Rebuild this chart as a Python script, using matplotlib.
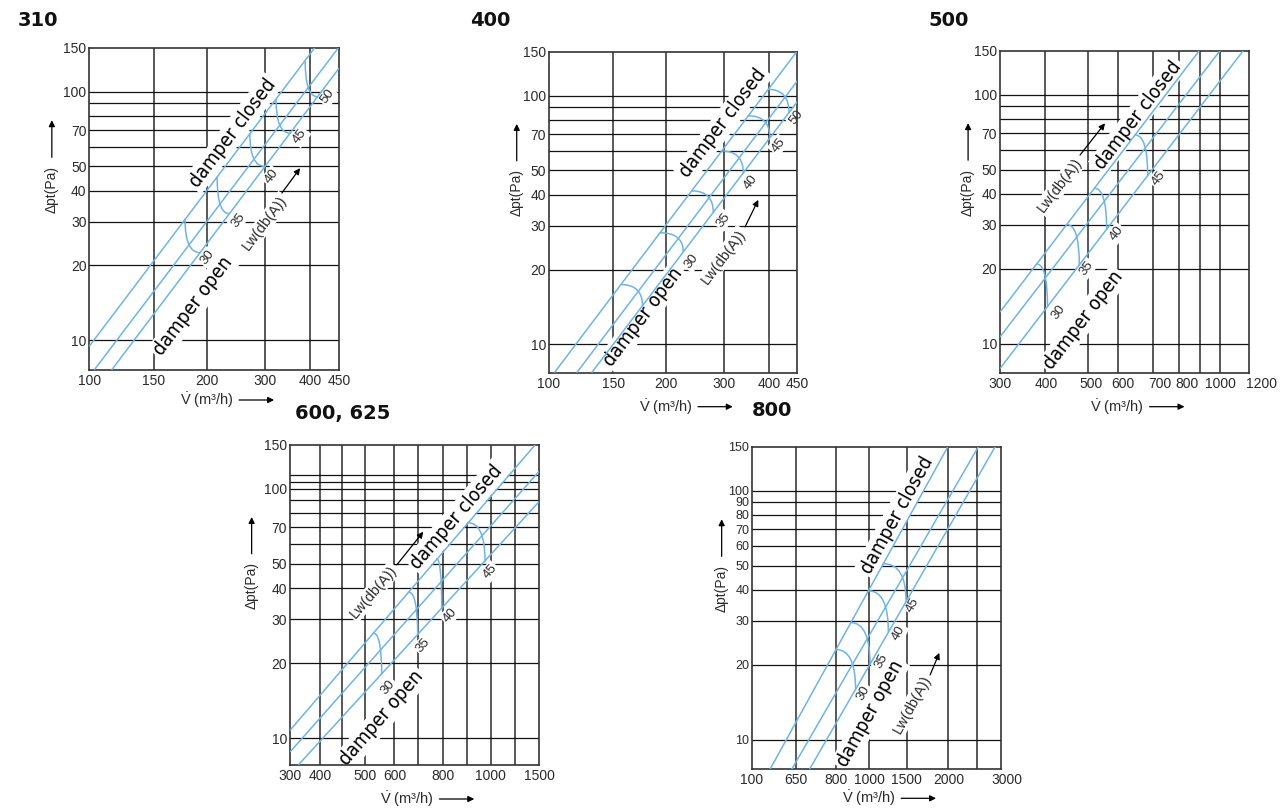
"""Pressure drop / sound power nomograms for five damper sizes."""

import math

import matplotlib

matplotlib.use("Agg")
import matplotlib.pyplot as plt
from matplotlib.patches import FancyArrowPatch
from matplotlib.ticker import FixedFormatter, FixedLocator, NullLocator
from matplotlib.transforms import ScaledTranslation

# ---------------------------------------------------------------- data
# Every panel: log x (airflow), log y (pressure drop). The printed scales of
# the original sheet are not exactly logarithmic, so tick and grid positions
# are given on the chart's own scale and the printed text is kept separately.

Y_TICKS_STD = [10, 20, 30, 40, 50, 70, 100, 150]
Y_TICKS_800 = [10, 20, 30, 40, 50, 60, 70, 80, 90, 100, 150]
Y_GRID_STD = [10, 20, 30, 40, 50, 60, 70, 80, 90, 100]
Y_GRID_600 = [10, 20, 30, 40, 50, 60, 70, 80, 90, 100, 107, 114]

# --- 310
P310_XLIM = (100, 450)
P310_YLIM = (7.6, 150)
P310_XGRID = [147.6, 203, 289, 378]
P310_XTICKS = [100, 147.6, 203, 289, 378, 450]
P310_XLABELS = ["100", "150", "200", "300", "400", "450"]
P310_LINE_V = [[100, 389], [103, 448], [114.4, 450]]
P310_LINE_P = [[9.47, 150], [7.6, 149.6], [7.6, 124]]
P310_ARC_LEVELS = ["30", "35", "40", "45", "50"]
P310_ARC_START = [(178, 30.6), (216, 45.4), (263, 67.7), (308, 93.1), (367, 132.8)]
P310_ARC_END = [(195, 22.5), (232, 32.3), (288, 50.0), (335, 68.0), (396, 95.2)]
P310_ARC_LABEL_AT = [(204, 21.5), (245, 30.5), (300, 45.5), (356, 65.9), (421, 95.4)]
P310_CLOSED_AT = (237, 68)
P310_OPEN_AT = (187, 13.7)
P310_LW_AT = (288, 29.6)
P310_LW_ARROW = [(319, 39.1), (356, 49.2)]

# --- 400
P400_XLIM = (100, 450)
P400_YLIM = (7.7, 150)
P400_XGRID = [147.6, 203, 289, 380]
P400_XTICKS = [100, 147.6, 203, 289, 380, 450]
P400_XLABELS = ["100", "150", "200", "300", "400", "450"]
P400_LINE_V = [[103.3, 448.4], [118.3, 450], [129.5, 450]]
P400_LINE_P = [[7.7, 150], [7.7, 114.4], [7.7, 94.5]]
P400_ARC_LEVELS = ["", "30", "35", "40", "45", "50"]
P400_ARC_START = [(154.7, 17.4), (195.9, 28.1), (237.4, 41.4), (284.7, 59.9),
                  (334.5, 82.9), (377.6, 105.9)]
P400_ARC_END = [(176.2, 14.3), (225.6, 23.5), (270.6, 33.9), (324.5, 48.9),
                (381.4, 67.7), (427.9, 85.3)]
P400_ARC_LABEL_AT = [(150, 10), (237.4, 21.5), (287.4, 31.6), (339.4, 44.7),
                     (401.1, 63.3), (446.5, 82.0)]
P400_CLOSED_AT = (287.4, 77.4)
P400_OPEN_AT = (177, 12.9)
P400_LW_AT = (287.4, 22.5)
P400_LW_ARROW = [(328, 29.7), (355.3, 38.1)]

# --- 500
P500_XLIM = (300, 1200)
P500_YLIM = (7.65, 150)
P500_XGRID = [385, 490, 577, 704, 813, 912, 1020]
P500_XTICKS = [300, 389, 499, 594, 730, 849, 1020, 1200]
P500_XLABELS = ["300", "400", "500", "600", "700", "800", "1000", "1200"]
P500_LINE_V = [[300, 908.6], [300, 1019.8], [300, 1160]]
P500_LINE_P = [[13.4, 150], [10.65, 150], [7.95, 150]]
P500_ARC_LEVELS = ["30", "35", "40", "45"]
P500_ARC_START = [(367.8, 20.9), (434.8, 30.1), (506.8, 42.1), (635.5, 68.9)]
P500_ARC_END = [(390.7, 14.1), (466.3, 20.7), (543, 28.8), (682.1, 47.3)]
P500_ARC_LABEL_AT = [(414.8, 13.4), (485.9, 20.1), (573.9, 27.7), (723.6, 46.1)]
P500_CLOSED_AT = (647.5, 82.8)
P500_OPEN_AT = (476.6, 12.4)
P500_LW_AT = (418.8, 43.3)
P500_LW_ARROW = [(468.2, 57.2), (537.9, 76.7)]

# --- 600, 625
P600_XLIM = (300, 1500)
P600_YLIM = (7.8, 150)
P600_XGRID = [364, 421, 487, 589, 688, 805, 940, 1098, 1285]
P600_XTICKS = [300, 364, 487, 589, 805, 1098, 1500]
P600_XLABELS = ["300", "400", "500", "600", "800", "1000", "1500"]
P600_LINE_V = [[300, 1462], [300, 1500], [316.5, 1500]]
P600_LINE_P = [[10.75, 150], [8.8, 117.4], [7.8, 88.8]]
P600_ARC_LEVELS = ["30", "35", "40", "45"]
P600_ARC_START = [(514, 26.4), (644.5, 38.6), (774.4, 52.4), (946.2, 73.2)]
P600_ARC_END = [(542.7, 18.1), (684.8, 26.0), (799.9, 33.2), (1058, 51.4)]
P600_ARC_LABEL_AT = [(566.4, 16.0), (710.2, 23.6), (844, 31.2), (1093, 46.5)]
P600_CLOSED_AT = (881.4, 77.3)
P600_OPEN_AT = (542.7, 12.0)
P600_LW_AT = (514, 38.6)
P600_LW_ARROW = [(597.9, 49.5), (710.2, 67.3)]

# --- 800 (printed labels as on the original sheet)
P800_XLIM = (500, 2180)
P800_YLIM = (7.6, 150)
P800_XGRID = [650, 820, 1000, 1250, 1600, 1900]
P800_XTICKS = [500, 650, 820, 1000, 1250, 1600, 2180]
P800_XLABELS = ["100", "650", "800", "1000", "1500", "2000", "3000"]
P800_LINE_V = [[556.3, 1594], [632.6, 1910], [702.9, 2110]]
P800_LINE_P = [[7.6, 150], [7.6, 150], [7.6, 150]]
P800_ARC_LEVELS = ["30", "35", "40", "45"]
P800_ARC_START = [(822.5, 23.0), (897.2, 29.5), (996, 39.6), (1088, 50.9)]
P800_ARC_END = [(923, 16.0), (1006, 20.0), (1121, 27.1), (1245, 36.0)]
P800_ARC_LABEL_AT = [(966.5, 15.4), (1078, 20.6), (1190, 26.8), (1295.6, 34.8)]
P800_CLOSED_AT = (1178, 79.8)
P800_OPEN_AT = (1006, 12.7)
P800_LW_AT = (1288, 13.8)
P800_LW_ARROW = [(1435.6, 18.2), (1516, 22.3)]

# ---------------------------------------------------------------- style
W, H = 1282, 808
BLUE = "#6fb4e2"
HGRID = "#111111"
VGRID = "#4a4a4a"
TXT = "#2a2a2a"
WHITE_BOX = dict(boxstyle="square,pad=0.12", fc="white", ec="none")

plt.rcParams["font.family"] = ["Liberation Sans", "DejaVu Sans"]
plt.rcParams["mathtext.fontset"] = "custom"
plt.rcParams["mathtext.rm"] = "Liberation Sans"
plt.rcParams["mathtext.it"] = "Liberation Sans:italic"

PANELS = [
    dict(title="310", title_px=(18, 20), box=(89.3, 339.0, 47.7, 370.0),
         ylab_x=-0.15, xlab_dy=30, last_shift=0, ytick_size=10,
         xlim=P310_XLIM, ylim=P310_YLIM, xgrid=P310_XGRID, ygrid=Y_GRID_STD,
         xticks=P310_XTICKS, xlabels=P310_XLABELS, yticks=Y_TICKS_STD,
         line_v=P310_LINE_V, line_p=P310_LINE_P, levels=P310_ARC_LEVELS,
         arc_a=P310_ARC_START, arc_b=P310_ARC_END, arc_lab=P310_ARC_LABEL_AT,
         arc_angles=(90, 0), closed=P310_CLOSED_AT, opened=P310_OPEN_AT,
         lw=P310_LW_AT, lw_arrow=P310_LW_ARROW),
    dict(title="400", title_px=(470, 20), box=(549.0, 797.3, 51.7, 372.7),
         ylab_x=-0.13, xlab_dy=34, last_shift=0, ytick_size=10,
         xlim=P400_XLIM, ylim=P400_YLIM, xgrid=P400_XGRID, ygrid=Y_GRID_STD,
         xticks=P400_XTICKS, xlabels=P400_XLABELS, yticks=Y_TICKS_STD,
         line_v=P400_LINE_V, line_p=P400_LINE_P, levels=P400_ARC_LEVELS,
         arc_a=P400_ARC_START, arc_b=P400_ARC_END, arc_lab=P400_ARC_LABEL_AT,
         arc_angles=(0, 90), closed=P400_CLOSED_AT, opened=P400_OPEN_AT,
         lw=P400_LW_AT, lw_arrow=P400_LW_ARROW),
    dict(title="500", title_px=(928, 20), box=(1000.0, 1249.3, 50.7, 372.7),
         ylab_x=-0.128, xlab_dy=34, last_shift=12, ytick_size=10,
         xlim=P500_XLIM, ylim=P500_YLIM, xgrid=P500_XGRID, ygrid=Y_GRID_STD,
         xticks=P500_XTICKS, xlabels=P500_XLABELS, yticks=Y_TICKS_STD,
         line_v=P500_LINE_V, line_p=P500_LINE_P, levels=P500_ARC_LEVELS,
         arc_a=P500_ARC_START, arc_b=P500_ARC_END, arc_lab=P500_ARC_LABEL_AT,
         arc_angles=(0, 90), closed=P500_CLOSED_AT, opened=P500_OPEN_AT,
         lw=P500_LW_AT, lw_arrow=P500_LW_ARROW),
    dict(title="600, 625", title_px=(295, 413), box=(290.0, 539.0, 445.0, 765.0),
         ylab_x=-0.154, xlab_dy=34, last_shift=0, ytick_size=10,
         xlim=P600_XLIM, ylim=P600_YLIM, xgrid=P600_XGRID, ygrid=Y_GRID_600,
         xticks=P600_XTICKS, xlabels=P600_XLABELS, yticks=Y_TICKS_STD,
         line_v=P600_LINE_V, line_p=P600_LINE_P, levels=P600_ARC_LEVELS,
         arc_a=P600_ARC_START, arc_b=P600_ARC_END, arc_lab=P600_ARC_LABEL_AT,
         arc_angles=(0, 90), closed=P600_CLOSED_AT, opened=P600_OPEN_AT,
         lw=P600_LW_AT, lw_arrow=P600_LW_ARROW),
    dict(title="800", title_px=(752, 410), box=(752.0, 1000.7, 446.7, 769.3),
         ylab_x=-0.122, xlab_dy=29, last_shift=6, ytick_size=9,
         xlim=P800_XLIM, ylim=P800_YLIM, xgrid=P800_XGRID, ygrid=Y_GRID_STD,
         xticks=P800_XTICKS, xlabels=P800_XLABELS, yticks=Y_TICKS_800,
         line_v=P800_LINE_V, line_p=P800_LINE_P, levels=P800_ARC_LEVELS,
         arc_a=P800_ARC_START, arc_b=P800_ARC_END, arc_lab=P800_ARC_LABEL_AT,
         arc_angles=(0, 90), closed=P800_CLOSED_AT, opened=P800_OPEN_AT,
         lw=P800_LW_AT, lw_arrow=P800_LW_ARROW),
]


def arrow(ax, start, end, coords="data"):
    ax.annotate("", xy=end, xytext=start, xycoords=coords, textcoords=coords,
                annotation_clip=False,
                arrowprops=dict(arrowstyle="-|>", color="black", lw=0.9,
                                mutation_scale=9, shrinkA=0, shrinkB=0),
                zorder=4)


def draw_panel(fig, p):
    left, right, top, bottom = p["box"]
    ax_h = bottom - top
    ax = fig.add_axes([left / W, 1 - bottom / H, (right - left) / W, ax_h / H])
    ax.set_xscale("log")
    ax.set_yscale("log")
    ax.set_xlim(*p["xlim"])
    ax.set_ylim(*p["ylim"])

    for v in p["xgrid"]:
        ax.axvline(v, color=VGRID, lw=1.3, zorder=1)
    for v in p["ygrid"]:
        ax.axhline(v, color=HGRID, lw=0.9, zorder=1)

    ax.xaxis.set_major_locator(FixedLocator(p["xticks"]))
    ax.xaxis.set_major_formatter(FixedFormatter(p["xlabels"]))
    ax.yaxis.set_major_locator(FixedLocator(p["yticks"]))
    ax.yaxis.set_major_formatter(FixedFormatter([str(t) for t in p["yticks"]]))
    ax.xaxis.set_minor_locator(NullLocator())
    ax.yaxis.set_minor_locator(NullLocator())
    ax.tick_params(length=0, pad=3, labelsize=10, labelcolor=TXT)
    ax.tick_params(axis="y", labelsize=p["ytick_size"], pad=2)
    if p["last_shift"]:
        lab = ax.xaxis.get_major_ticks()[-1].label1
        lab.set_transform(lab.get_transform()
                          + ScaledTranslation(p["last_shift"] / 100, 0, fig.dpi_scale_trans))
    for s in ax.spines.values():
        s.set_color("#333333")
        s.set_linewidth(1.2)

    for v, pr in zip(p["line_v"], p["line_p"]):
        ax.plot(v, pr, color=BLUE, lw=1.1, zorder=3, solid_capstyle="butt")

    # rotation of the characteristic lines on screen
    (x0, y0), (x1, y1) = ax.transData.transform(list(zip(p["line_v"][0], p["line_p"][0])))
    ang = math.degrees(math.atan2(y1 - y0, x1 - x0))

    a_a, a_b = p["arc_angles"]
    for lev, pa, pb, pl in zip(p["levels"], p["arc_a"], p["arc_b"], p["arc_lab"]):
        ax.add_patch(FancyArrowPatch(
            pa, pb, arrowstyle="-", shrinkA=0, shrinkB=0, color=BLUE, lw=1.1,
            connectionstyle=f"angle3,angleA={a_a},angleB={a_b}", zorder=3))
        if lev:
            ax.text(*pl, lev, rotation=ang, rotation_mode="anchor", ha="center",
                    va="center", fontsize=9.5, color=TXT, bbox=WHITE_BOX, zorder=2,
                    clip_on=False)

    for pos, txt in ((p["closed"], "damper closed"), (p["opened"], "damper open")):
        ax.text(*pos, txt, rotation=ang, rotation_mode="anchor", ha="center",
                va="center", fontsize=14, family="DejaVu Sans", stretch="condensed",
                color="#000000", bbox=WHITE_BOX, zorder=2)
    ax.text(*p["lw"], "Lw(db(A))", rotation=ang, rotation_mode="anchor",
            ha="center", va="center", fontsize=10.5, color=TXT, bbox=WHITE_BOX, zorder=2)
    arrow(ax, p["lw_arrow"][0], p["lw_arrow"][1])

    # axis captions with their arrows
    yx = p["ylab_x"]
    ax.text(yx, 0.56, "\u0394pt(Pa)", transform=ax.transAxes, rotation=90,
            ha="center", va="center", fontsize=10, color=TXT)
    arrow(ax, (yx, 0.66), (yx, 0.775), coords="axes fraction")
    xy = -p["xlab_dy"] / ax_h
    ax.text(0.47, xy, r"$\dot{\mathrm{V}}$ (m³/h)", transform=ax.transAxes,
            ha="center", va="center", fontsize=10.5, color=TXT)
    arrow(ax, (0.6, xy), (0.74, xy), coords="axes fraction")

    tx, ty = p["title_px"]
    fig.text(tx / W, 1 - ty / H, p["title"], ha="left", va="center", fontsize=14,
             fontweight="heavy", family="DejaVu Sans", color="#111111")
    return ax


fig = plt.figure(figsize=(W / 100, H / 100), dpi=100)
for panel in PANELS:
    draw_panel(fig, panel)
fig.savefig("out.png", dpi=100, facecolor="white")
